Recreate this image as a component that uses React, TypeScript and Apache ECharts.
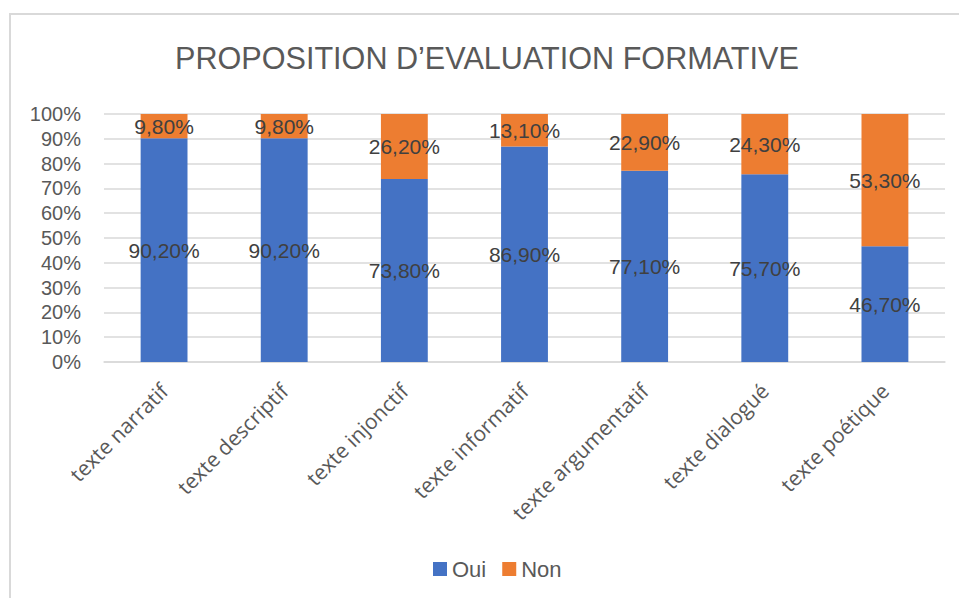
import React, { useEffect, useRef } from "react";
import * as echarts from "echarts";

const categories = [
  "texte narratif",
  "texte descriptif",
  "texte injonctif",
  "texte informatif",
  "texte argumentatif",
  "texte dialogué",
  "texte poétique",
];
const ouiValues = [90.2, 90.2, 73.8, 86.9, 77.1, 75.7, 46.7];
const nonValues = [9.8, 9.8, 26.2, 13.1, 22.9, 24.3, 53.3];
const titleText = "PROPOSITION D\u2019EVALUATION FORMATIVE";

const fmt = (v: number) => v.toFixed(2).replace(".", ",") + "%";

export default function App() {
  const ref = useRef<HTMLDivElement>(null);
  useEffect(() => {
    if (!ref.current) return;
    const chart = echarts.init(ref.current, null, { renderer: "svg" });
    const labelStyle = {
      show: true,
      position: "inside" as const,
      color: "#404040",
      fontSize: 21,
      fontFamily: "Liberation Sans",
      formatter: (p: any) => fmt(p.value),
    };
    chart.setOption({
      animation: false,
      backgroundColor: "#ffffff",
      title: {
        text: titleText,
        left: 175,
        top: 42,
        padding: 0,
        textStyle: {
          fontFamily: "Liberation Sans",
          fontSize: 30.6,
          fontWeight: "normal",
          color: "#595959",
        },
      },
      graphic: [
        {
          type: "rect",
          shape: { x: 10, y: 14, width: 970, height: 620 },
          style: { fill: "none", stroke: "#d9d9d9", lineWidth: 2 },
          silent: true,
          z: -1,
        },
      ],
      legend: {
        left: 428,
        top: 553,
        itemWidth: 14,
        itemHeight: 14,
        itemGap: 16,
        icon: "rect",
        textStyle: {
          fontFamily: "Liberation Sans",
          fontSize: 22,
          color: "#595959",
        },
        data: ["Oui", "Non"],
      },
      grid: { left: 104, right: 14, top: 114, bottom: 236, containLabel: false },
      xAxis: {
        type: "category",
        data: categories,
        axisLine: { show: true, lineStyle: { color: "#d9d9d9", width: 1.5 } },
        axisTick: { show: false },
        axisLabel: {
          rotate: 45,
          margin: 25,
          interval: 0,
          fontFamily: "Open Sans",
          fontSize: 21,
          color: "#595959",
        },
      },
      yAxis: {
        type: "value",
        min: 0,
        max: 100,
        interval: 10,
        axisLine: { show: false },
        axisTick: { show: false },
        splitLine: { lineStyle: { color: "#d9d9d9", width: 1.5 } },
        axisLabel: {
          formatter: "{value}%",
          margin: 23,
          fontFamily: "Liberation Sans",
          fontSize: 20,
          color: "#595959",
        },
      },
      series: [
        {
          name: "Oui",
          type: "bar",
          stack: "total",
          barWidth: "39%",
          data: ouiValues,
          itemStyle: { color: "#4472C4" },
          label: labelStyle,
        },
        {
          name: "Non",
          type: "bar",
          stack: "total",
          barWidth: "39%",
          data: nonValues,
          itemStyle: { color: "#ED7D31" },
          label: labelStyle,
        },
      ],
    });
    return () => chart.dispose();
  }, []);
  return (
    <div
      ref={ref}
      style={{ position: "fixed", left: 0, top: 0, width: 959, height: 598 }}
    />
  );
}
